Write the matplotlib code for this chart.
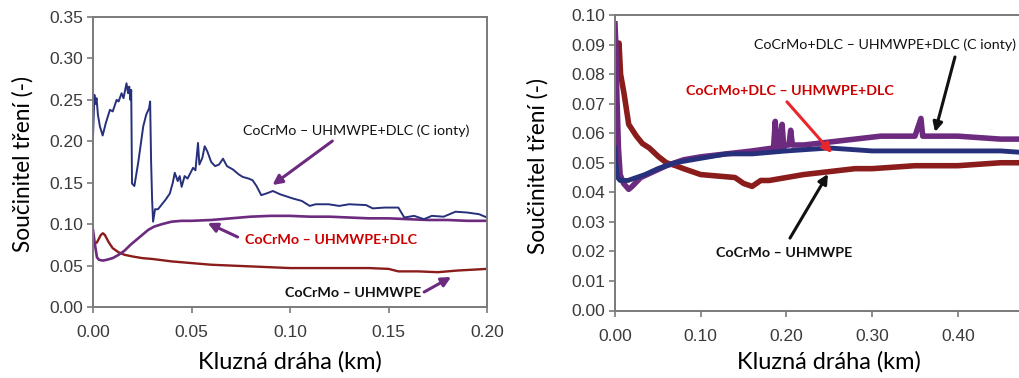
import matplotlib
matplotlib.use("Agg")
import matplotlib.pyplot as plt

# ---------------- data: left panel (CoCrMo head) ----------------
left_blue_x = [0.0, 0.0007, 0.0012, 0.0018, 0.0025, 0.0035, 0.0049, 0.0065, 0.0086, 0.010, 0.012, 0.013,
               0.0145, 0.0155, 0.017, 0.0178, 0.0184, 0.019, 0.0194, 0.0198, 0.021, 0.023, 0.0255, 0.027,
               0.0285, 0.029, 0.0295, 0.0300, 0.0305, 0.0315, 0.033, 0.035, 0.037, 0.039, 0.0405, 0.0415,
               0.043, 0.044, 0.045, 0.0465, 0.048, 0.0508, 0.052, 0.0533, 0.054, 0.0555, 0.0567, 0.058,
               0.060, 0.062, 0.064, 0.066, 0.068, 0.071, 0.074, 0.076, 0.079, 0.081, 0.083, 0.0854, 0.088,
               0.0913, 0.095, 0.1014, 0.106, 0.110, 0.113, 0.1195, 0.125, 0.13, 0.1386, 0.142, 0.148, 0.155,
               0.158, 0.163, 0.168, 0.172, 0.178, 0.184, 0.19, 0.196, 0.2]
left_blue_y = [0.205, 0.256, 0.245, 0.252, 0.232, 0.218, 0.207, 0.222, 0.238, 0.236, 0.250, 0.248,
               0.258, 0.252, 0.270, 0.258, 0.266, 0.250, 0.262, 0.149, 0.146, 0.175, 0.218, 0.232,
               0.240, 0.248, 0.175, 0.130, 0.103, 0.118, 0.118, 0.124, 0.130, 0.137, 0.150, 0.162,
               0.152, 0.158, 0.145, 0.158, 0.155, 0.168, 0.165, 0.198, 0.172, 0.180, 0.194, 0.188,
               0.175, 0.170, 0.172, 0.179, 0.170, 0.166, 0.160, 0.157, 0.155, 0.153, 0.146, 0.135, 0.137,
               0.140, 0.136, 0.131, 0.128, 0.122, 0.124, 0.124, 0.122, 0.124, 0.123, 0.119, 0.120, 0.120,
               0.108, 0.110, 0.106, 0.110, 0.109, 0.115, 0.114, 0.112, 0.108]

left_purple_x = [0.0, 0.001, 0.002, 0.003, 0.005, 0.007, 0.010, 0.013, 0.016, 0.019, 0.022, 0.025, 0.028,
                 0.031, 0.035, 0.040, 0.045, 0.05, 0.06, 0.07, 0.08, 0.09, 0.10, 0.11, 0.12, 0.13, 0.14,
                 0.15, 0.16, 0.17, 0.18, 0.19, 0.2]
left_purple_y = [0.093, 0.075, 0.060, 0.057, 0.056, 0.057, 0.059, 0.063, 0.068, 0.075, 0.081, 0.087, 0.093,
                 0.097, 0.100, 0.103, 0.104, 0.104, 0.105, 0.107, 0.109, 0.110, 0.110, 0.109, 0.109, 0.108,
                 0.107, 0.107, 0.106, 0.105, 0.105, 0.104, 0.104]

left_red_x = [0.0, 0.002, 0.004, 0.005, 0.006, 0.008, 0.010, 0.013, 0.016, 0.02, 0.025, 0.03, 0.04, 0.05,
              0.06, 0.07, 0.08, 0.09, 0.10, 0.12, 0.14, 0.15, 0.155, 0.165, 0.175, 0.185, 0.2]
left_red_y = [0.075, 0.078, 0.087, 0.089, 0.087, 0.078, 0.071, 0.066, 0.063, 0.061, 0.059, 0.058, 0.055,
              0.053, 0.051, 0.050, 0.049, 0.048, 0.047, 0.047, 0.047, 0.046, 0.043, 0.043, 0.042, 0.044, 0.046]

# ---------------- data: right panel (CoCrMo+DLC head) ----------------
right_red_x = [0.0, 0.001, 0.0025, 0.0047, 0.0065, 0.0105, 0.016, 0.025, 0.032, 0.04, 0.051, 0.06, 0.071,
               0.08, 0.09, 0.10, 0.12, 0.14, 0.15, 0.16, 0.17, 0.18, 0.2, 0.22, 0.25, 0.28, 0.3, 0.35,
               0.4, 0.45, 0.5]
right_red_y = [0.075, 0.082, 0.089, 0.0905, 0.080, 0.0735, 0.063, 0.059, 0.0565, 0.055, 0.052, 0.050, 0.049,
               0.048, 0.047, 0.046, 0.0455, 0.045, 0.043, 0.042, 0.044, 0.044, 0.045, 0.046, 0.047, 0.048,
               0.048, 0.049, 0.049, 0.050, 0.050]

right_blue_x = [0.0, 0.001, 0.003, 0.006, 0.015, 0.025, 0.035, 0.05, 0.07, 0.09, 0.11, 0.13, 0.16, 0.2,
                0.25, 0.3, 0.35, 0.4, 0.45, 0.5]
right_blue_y = [0.055, 0.050, 0.045, 0.044, 0.044, 0.045, 0.046, 0.048, 0.050, 0.051, 0.052, 0.053, 0.053,
                0.054, 0.055, 0.054, 0.054, 0.054, 0.054, 0.053]

right_purple_x = [0.0, 0.001, 0.002, 0.004, 0.006, 0.01, 0.016, 0.02, 0.03, 0.045, 0.06, 0.08, 0.1, 0.13,
                  0.16, 0.185, 0.187, 0.189, 0.191, 0.195, 0.197, 0.199, 0.203, 0.205, 0.207, 0.22, 0.25,
                  0.28, 0.31, 0.35, 0.357, 0.359, 0.361, 0.4, 0.45, 0.5]
right_purple_y = [0.097, 0.090, 0.075, 0.055, 0.046, 0.043, 0.041, 0.042, 0.045, 0.047, 0.049, 0.051, 0.052,
                  0.053, 0.054, 0.055, 0.064, 0.055, 0.055, 0.063, 0.055, 0.056, 0.056, 0.061, 0.056, 0.056,
                  0.057, 0.058, 0.059, 0.059, 0.065, 0.059, 0.059, 0.059, 0.058, 0.058]

left_yticks = [0.00, 0.05, 0.10, 0.15, 0.20, 0.25, 0.30, 0.35]
left_xticks = [0.00, 0.05, 0.10, 0.15, 0.20]
right_yticks = [0.00, 0.01, 0.02, 0.03, 0.04, 0.05, 0.06, 0.07, 0.08, 0.09, 0.10]
right_xticks = [0.00, 0.10, 0.20, 0.30, 0.40]

x_label = "Kluzná dráha (km)"
y_label = "Součinitel tření (-)"

# ---------------- styling ----------------
C_BLUE = "#27307a"
C_PURPLE = "#6d2b80"
C_RED = "#8b1c1c"
C_RED_TXT = "#cc0000"
SPINE = "#7a7a7a"
LABEL_FONT = ["Lato", "DejaVu Sans"]
TICK_FONT = ["Liberation Sans", "DejaVu Sans"]
NOTE_SIZE = 10.3

fig = plt.figure(figsize=(10.19, 3.78), dpi=100)
axL = fig.add_axes([93 / 1019, 71 / 378, 394 / 1019, 290 / 378])
axR = fig.add_axes([615 / 1019, 67.5 / 378, 428.5 / 1019, 295.5 / 378])


def style(ax):
    for s in ax.spines.values():
        s.set_color(SPINE)
        s.set_linewidth(1.4)
    ax.tick_params(direction="out", length=4, width=1.2, color=SPINE,
                   labelsize=12.5, labelcolor="#3a3a3a", pad=3)
    for lab in ax.get_xticklabels() + ax.get_yticklabels():
        lab.set_family(TICK_FONT)
    ax.tick_params(axis="x", pad=9)


# left panel
axL.plot(left_red_x, left_red_y, color=C_RED, lw=1.7)
axL.plot(left_purple_x, left_purple_y, color=C_PURPLE, lw=1.9)
axL.plot(left_blue_x, left_blue_y, color=C_BLUE, lw=1.4)
axL.set_xlim(0, 0.2)
axL.set_ylim(0, 0.35)
axL.set_xticks(left_xticks)
axL.set_xticklabels([f"{v:.2f}" for v in left_xticks])
axL.set_yticks(left_yticks)
axL.set_yticklabels([f"{v:.2f}" for v in left_yticks])
style(axL)
axL.set_xlabel(x_label, fontsize=17, family=LABEL_FONT)
axL.set_ylabel(y_label, fontsize=16.3, family=LABEL_FONT)
axL.xaxis.set_label_coords(0.5, -0.152)
axL.yaxis.set_label_coords(-0.152, 0.493)

# right panel
axR.plot(right_red_x, right_red_y, color=C_RED, lw=4.0, solid_joinstyle="round")
axR.plot(right_purple_x, right_purple_y, color=C_PURPLE, lw=4.0, solid_joinstyle="round")
axR.plot(right_blue_x, right_blue_y, color=C_BLUE, lw=3.5, solid_joinstyle="round")
axR.set_xlim(0, 0.5)
axR.set_ylim(0, 0.10)
axR.set_xticks(right_xticks)
axR.set_xticklabels([f"{v:.2f}" for v in right_xticks])
axR.set_yticks(right_yticks)
axR.set_yticklabels([f"{v:.2f}" for v in right_yticks])
style(axR)
axR.set_xlabel(x_label, fontsize=17, family=LABEL_FONT)
axR.set_ylabel(y_label, fontsize=16.3, family=LABEL_FONT)
axR.xaxis.set_label_coords(0.5, -0.138)
axR.yaxis.set_label_coords(-0.156, 0.49)


def note(ax, text, txy, start, end, tcolor, acolor, bold):
    ax.text(txy[0], txy[1], text, ha="center", va="center", fontsize=NOTE_SIZE,
            family=LABEL_FONT, color=tcolor, fontweight="bold" if bold else "normal")
    ax.annotate("", xy=end, xytext=start,
                arrowprops=dict(arrowstyle="-|>", color=acolor, lw=2.2,
                                mutation_scale=14, shrinkA=0, shrinkB=0))


note(axL, "CoCrMo – UHMWPE+DLC (C ionty)", (0.1337, 0.2123), (0.1215, 0.2003), (0.0911, 0.1472),
     "#111111", C_PURPLE, False)
note(axL, "CoCrMo – UHMWPE+DLC", (0.1208, 0.0809), (0.0734, 0.0845), (0.0582, 0.1014),
     C_RED_TXT, C_PURPLE, True)
note(axL, "CoCrMo – UHMWPE", (0.1322, 0.0169), (0.1681, 0.0181), (0.1818, 0.0362),
     "#111111", C_PURPLE, True)

note(axR, "CoCrMo+DLC – UHMWPE+DLC (C ionty)", (0.3145, 0.0898), (0.3967, 0.0858), (0.3734, 0.0604),
     "#111111", "#111111", False)
note(axR, "CoCrMo+DLC – UHMWPE+DLC", (0.2042, 0.0743), (0.2007, 0.0706), (0.2532, 0.0533),
     C_RED_TXT, "#e8262b", True)
note(axR, "CoCrMo – UHMWPE", (0.1978, 0.01946), (0.2042, 0.0245), (0.2485, 0.0462),
     "#111111", "#111111", True)

fig.savefig("out.png", dpi=100)
